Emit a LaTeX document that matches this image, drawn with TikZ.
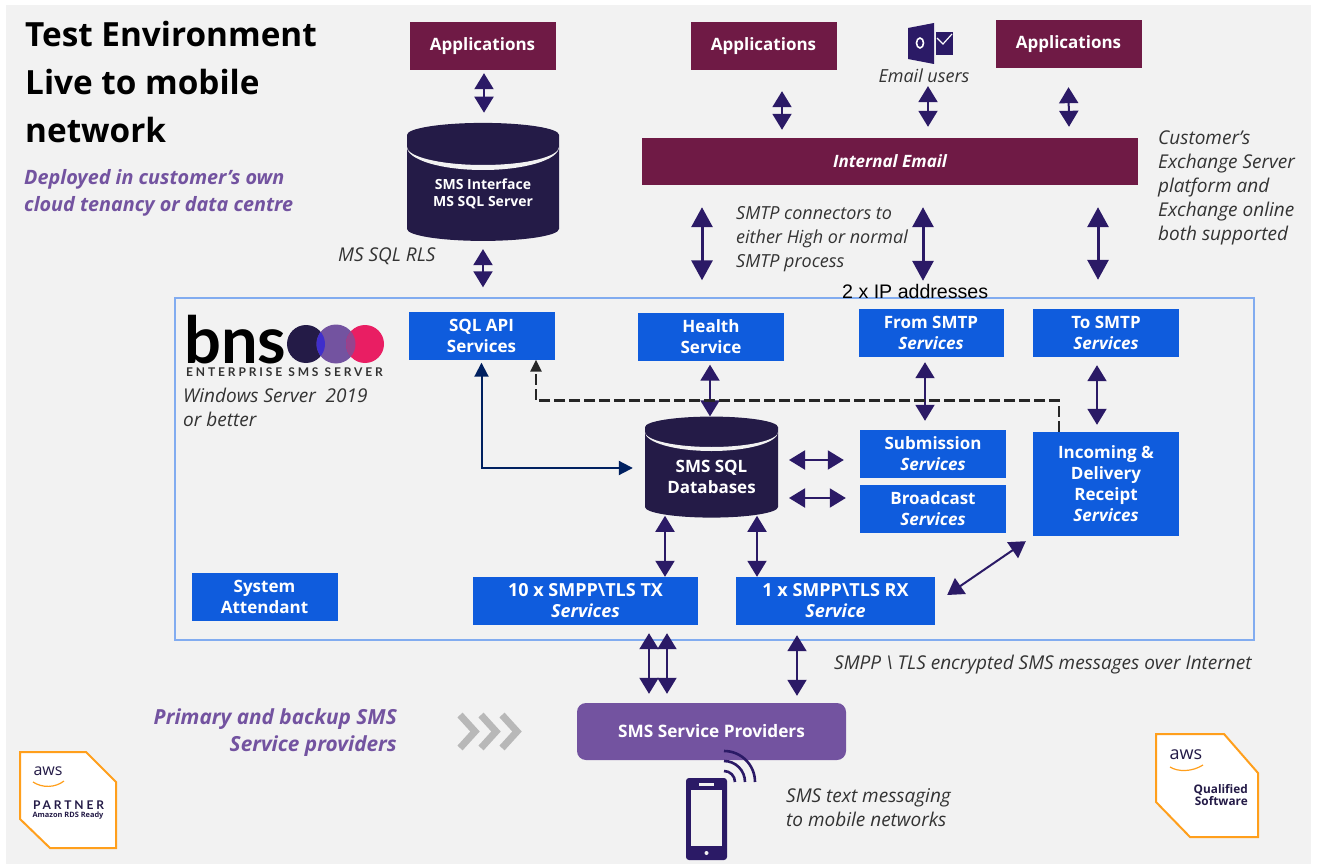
\documentclass[tikz,border=0pt]{standalone}
\usepackage{fontspec}
\usepackage{tikz}
\usetikzlibrary{calc,shapes.geometric,arrows.meta}
\setmainfont{Open Sans}
\newfontfamily\logofont{Lato}
\newfontfamily\spacedfont[LetterSpace=24]{Lato}
\newfontfamily\arialfont{Liberation Sans}
\definecolor{pagebg}{HTML}{F2F2F2}
\definecolor{maroon}{HTML}{6F1A45}
\definecolor{svcblue}{HTML}{0F5CDD}
\definecolor{dbnavy}{HTML}{241B47}
\definecolor{arrowcol}{HTML}{2B1A66}
\definecolor{linknavy}{HTML}{002060}
\definecolor{purp}{HTML}{7353A0}
\definecolor{framecol}{HTML}{82ACF0}
\definecolor{awsorange}{HTML}{FF9F1C}
\definecolor{pinkdot}{HTML}{E91E63}
\definecolor{notegrey}{HTML}{333333}

\begin{document}
\begin{tikzpicture}[x=1pt,y=-1pt,
    app/.style={fill=maroon, text=white, inner sep=0pt, minimum width=146pt, minimum height=48pt,
      font=\bfseries\fontsize{17}{21}\selectfont},
    svc/.style={fill=svcblue, text=white, inner sep=0pt, align=center, minimum width=146pt,
      minimum height=48pt, font=\bfseries\fontsize{17}{21}\selectfont},
    db/.style={cylinder, shape border rotate=90, aspect=0.24, fill=dbnavy, text=white, inner sep=0pt,
      align=center, font=\bfseries},
    note/.style={anchor=west, align=left, inner sep=0pt, text=notegrey,
      font=\itshape\fontsize{19}{24}\selectfont},
    lead/.style={align=left, inner sep=0pt, text=purp, font=\bfseries\itshape\fontsize{19.8}{27}\selectfont},
    badge/.style={draw=awsorange, fill=white, line width=2pt},
    biarrow/.style={draw=arrowcol, line width=2pt, arrows={Stealth[length=16pt,width=19pt,inset=0pt]-Stealth[length=16pt,width=19pt,inset=0pt]}},
    bigarrow/.style={draw=arrowcol, line width=3pt, arrows={Stealth[length=20pt,width=21pt,inset=0pt]-Stealth[length=20pt,width=21pt,inset=0pt]}}]
  \useasboundingbox (0,0) rectangle (1318,864);
  \fill[white] (0,0) rectangle (1318,864);
  \fill[pagebg] (6,5) rectangle (1311,864);

  \node[anchor=north west, align=left, inner sep=0pt, font=\bfseries\fontsize{33.3}{48}\selectfont] (title) at (25,21)
    {Test Environment\\Live to mobile\\network};
  \node[lead, anchor=north west] (deployed) at (24,169) {Deployed in customer's own\\cloud tenancy or data centre};

  \node[app] (appsa) at (482.5,46) {Applications};
  \node[app] (appsb) at (763.5,46) {Applications};
  \node[app] (appsc) at (1068.5,44) {Applications};
  \node[app, minimum width=496pt, minimum height=47pt, font=\bfseries\itshape\fontsize{17}{21}\selectfont] (email) at (890,161.5) {Internal Email};

  \node[db, minimum width=152pt, minimum height=118pt, font=\bfseries\fontsize{14}{17}\selectfont] (sqlif) at (483,188) {\rule{0pt}{23pt}SMS Interface\\MS SQL Server};
  \fill[pagebg] (407,147) arc[start angle=180, end angle=0, x radius=76, y radius=23]
    arc[start angle=0, end angle=180, x radius=76, y radius=18] -- cycle;
  \node[db, minimum width=133pt, minimum height=101pt, font=\bfseries\fontsize{17}{21}\selectfont] (smsdb) at (711.5,472.5) {\rule{0pt}{22pt}SMS SQL\\Databases};
  \fill[pagebg] (645,432) arc[start angle=180, end angle=0, x radius=66.5, y radius=19]
    arc[start angle=0, end angle=180, x radius=66.5, y radius=15] -- cycle;

  \draw[framecol, line width=1.1pt] (175,298) rectangle (1254,640);

  % logo
  \node[anchor=west, inner sep=0pt, font=\logofont\bfseries\fontsize{65}{65}\selectfont] (bns) at (184,340) {bns};
  \fill[dbnavy] (306,344) circle (19);
  \fill[purp] (336,344) circle (19.5);
  \fill[pinkdot] (365,344) circle (19);
  \begin{scope}
    \clip (306,344) circle (19);
    \fill[blue!45!purp] (336,344) circle (19.5);
  \end{scope}
  \begin{scope}
    \clip (365,344) circle (19);
    \fill[pinkdot!30!purp] (336,344) circle (19.5);
  \end{scope}
  \node[anchor=west, inner sep=0pt, text=notegrey, font=\spacedfont\bfseries\fontsize{12}{13}\selectfont] (ent) at (186,372) {ENTERPRISE\enspace SMS\enspace SERVER};
  \node[note] (winsrv) at (183,407.5) {Windows Server\ \ 2019\\or better};

  \node[svc] (sqlapi) at (481.5,335.5) {SQL API\\Services};
  \node[svc] (health) at (711,336.5) {Health\\Service};
  \node[svc, minimum width=145pt] (fromsmtp) at (931,333) {From SMTP\\\textit{Services}};
  \node[svc] (tosmtp) at (1106,333) {To SMTP\\\textit{Services}};
  \node[svc] (submit) at (933,454) {Submission\\\textit{Services}};
  \node[svc] (bcast) at (933,509) {Broadcast\\\textit{Services}};
  \node[svc, minimum height=104pt] (incoming) at (1106,484) {Incoming \&\\Delivery\\Receipt\\\textit{Services}};
  \node[svc, minimum width=225pt, font=\bfseries\fontsize{18}{21}\selectfont] (smpptx) at (585.5,601) {10 x SMPP\textbackslash TLS TX\\\textit{Services}};
  \node[svc, minimum width=199pt, font=\bfseries\fontsize{18}{21}\selectfont] (smpprx) at (835.5,601) {1 x SMPP\textbackslash TLS RX\\\textit{Service}};
  \node[svc] (sysatt) at (264.5,597) {System\\Attendant};
  \node[fill=purp, text=white, rounded corners=9pt, minimum width=269pt, minimum height=57pt, inner sep=0pt,
    font=\bfseries\fontsize{17.2}{21}\selectfont] (prov) at (711.5,731.5) {SMS Service Providers};

  % outlook icon
  \fill[arrowcol] (908,28) -- (934,23) -- (934,64) -- (908,59) -- cycle;
  \draw[white, line width=1.6pt] (920,43) ellipse (3.5 and 5);
  \fill[arrowcol] (936,32) rectangle (953,55);
  \draw[white, line width=1.2pt] (937,38) -- (943,44) -- (952,34);
  \node[note, anchor=center, font=\itshape\fontsize{18}{24}\selectfont] (emailusers) at (924,76) {Email users};

  \node[note] (rls) at (338,256.5) {MS SQL RLS};
  \node[note, font=\itshape\fontsize{18}{24}\selectfont] (smtpnote) at (736,239.5) {SMTP connectors to\\either High or normal\\SMTP process};
  \node[note] (custnote) at (1158,188) {Customer's\\Exchange Server\\platform and\\Exchange online\\both supported};
  \node[anchor=west, inner sep=0pt, font=\arialfont\fontsize{19.6}{21}\selectfont] (ipaddr) at (842,291) {2 x IP addresses};
  \node[note] (tlsnote) at (834,665) {SMPP \textbackslash{} TLS encrypted SMS messages over Internet};
  \node[note] (smsnote) at (786,808) {SMS text messaging\\to mobile networks};
  \node[lead, anchor=north east, align=right, font=\bfseries\itshape\fontsize{20.8}{27}\selectfont] (primary) at (397,708) {Primary and backup SMS\\Service providers};

  % arrows
  \draw[biarrow] ([xshift=1.5pt,yshift=-3pt]appsa.south) -- ([xshift=1pt,yshift=10pt]sqlif.north);
  \draw[biarrow] ([yshift=-8pt]sqlif.south) -- ([xshift=1.5pt,yshift=24pt]sqlapi.north);
  \draw[biarrow] ([xshift=18.5pt,yshift=-21pt]appsb.south) -- ([xshift=-108pt,yshift=8pt]email.north);
  \draw[biarrow] ([xshift=4pt,yshift=-3pt]emailusers.south) -- ([xshift=38pt,yshift=11pt]email.north);
  \draw[biarrow] ([yshift=-19pt]appsc.south) -- ([xshift=179pt,yshift=11pt]email.north);
  \draw[bigarrow] ([xshift=-188pt,yshift=-22pt]email.south) -- ([xshift=-9pt,yshift=32pt]health.north);
  \draw[bigarrow] ([xshift=33pt,yshift=-22pt]email.south) -- ([xshift=-8pt,yshift=28pt]fromsmtp.north);
  \draw[bigarrow] ([xshift=208pt,yshift=-22pt]email.south) -- ([xshift=-8pt,yshift=29pt]tosmtp.north);
  \draw[biarrow] ([xshift=-1pt,yshift=-4pt]health.south) -- ([xshift=-1.5pt]smsdb.north);
  \draw[biarrow] ([xshift=-6pt,yshift=-5pt]fromsmtp.south) -- ([xshift=-8pt,yshift=9pt]submit.north);
  \draw[biarrow] ([xshift=-9pt,yshift=-8pt]tosmtp.south) -- ([xshift=-9pt,yshift=7pt]incoming.north);
  \draw[biarrow] ([xshift=77.5pt,yshift=12.5pt]smsdb.center) -- ([xshift=-16pt,yshift=-6pt]submit.west);
  \draw[biarrow] ([xshift=77.5pt,yshift=-25.5pt]smsdb.center) -- ([xshift=-14pt,yshift=11pt]bcast.west);
  \draw[biarrow] ([xshift=-46.5pt,yshift=2pt]smsdb.south) -- ([xshift=79.5pt]smpptx.north);
  \draw[biarrow] ([xshift=45.5pt,yshift=2pt]smsdb.south) -- ([xshift=-78.5pt]smpprx.north);
  \draw[biarrow] ([xshift=12pt,yshift=6pt]smpprx.east) -- ([xshift=-7pt,yshift=-5pt]incoming.south west);
  \draw[biarrow] ([xshift=63.5pt,yshift=-8pt]smpptx.south) -- ([xshift=-62.5pt,yshift=9pt]prov.north);
  \draw[biarrow] ([xshift=81.5pt,yshift=-8pt]smpptx.south) -- ([xshift=-44.5pt,yshift=9pt]prov.north);
  \draw[biarrow] ([xshift=-38.5pt,yshift=-10pt]smpprx.south) -- ([xshift=85.5pt,yshift=7pt]prov.north);
  \draw[draw=linknavy, line width=2pt, arrows={Stealth[length=14pt,width=14pt,inset=0pt]-Stealth[length=14pt,width=14pt,inset=0pt]}]
    ([yshift=-3pt]sqlapi.south) |- ([xshift=-12pt,yshift=4.5pt]smsdb.west);
  \draw[black!85, line width=2.5pt, dash pattern=on 11pt off 4pt, arrows={-Stealth[length=12pt,width=11pt,inset=0pt]}]
    ([xshift=-47pt]incoming.north) |- ([xshift=54.5pt,yshift=-41pt]sqlapi.south) -- ([xshift=54.5pt]sqlapi.south);

  % chevrons
  \foreach \i in {0,1,2}
    \draw[black!28, line width=7pt] (460+21*\i,715) -- (475+21*\i,731.5) -- (460+21*\i,748);

  % phone
  \fill[arrowcol, rounded corners=3pt] (686,778) rectangle (727,860);
  \fill[pagebg] (691,790) rectangle (722,846);
  \fill[pagebg] (699,783) rectangle (714,785.5);
  \fill[pagebg] (706.5,853) circle (2);
  \foreach \r in {11,21,31}
    \draw[arrowcol, line width=2.6pt] (724,782-\r) arc[start angle=270, end angle=360, radius=\r];

  % badges
  \draw[badge] (20,752) -- (86,752) -- (116,782) -- (116,848) -- (50,848) -- (20,819) -- cycle;
  \node[inner sep=0pt, text=dbnavy, font=\fontsize{16}{16}\selectfont] (awsa) at (48,771) {aws};
  \draw[awsorange, line width=1.2pt] (33,782) .. controls (42,788) and (55,788) .. (64,781);
  \node[inner sep=0pt, text=dbnavy, font=\spacedfont\bfseries\fontsize{12}{13}\selectfont] (partner) at (68.5,805) {PARTNER};
  \node[inner sep=0pt, text=dbnavy, font=\bfseries\fontsize{7.4}{8}\selectfont] (rdsready) at (68,816) {Amazon RDS Ready};

  \draw[badge] (1156,734) -- (1224,734) -- (1258,773) -- (1258,837) -- (1190,837) -- (1156,802) -- cycle;
  \node[inner sep=0pt, text=dbnavy, font=\fontsize{18}{18}\selectfont] (awsb) at (1186,755) {aws};
  \draw[awsorange, line width=1.2pt] (1170,767) .. controls (1178,772) and (1192,772) .. (1203,765);
  \node[anchor=east, align=right, inner sep=0pt, text=dbnavy, font=\bfseries\fontsize{11.8}{12}\selectfont] (qualified) at (1248,795) {Qualified\\Software};
\end{tikzpicture}
\end{document}
